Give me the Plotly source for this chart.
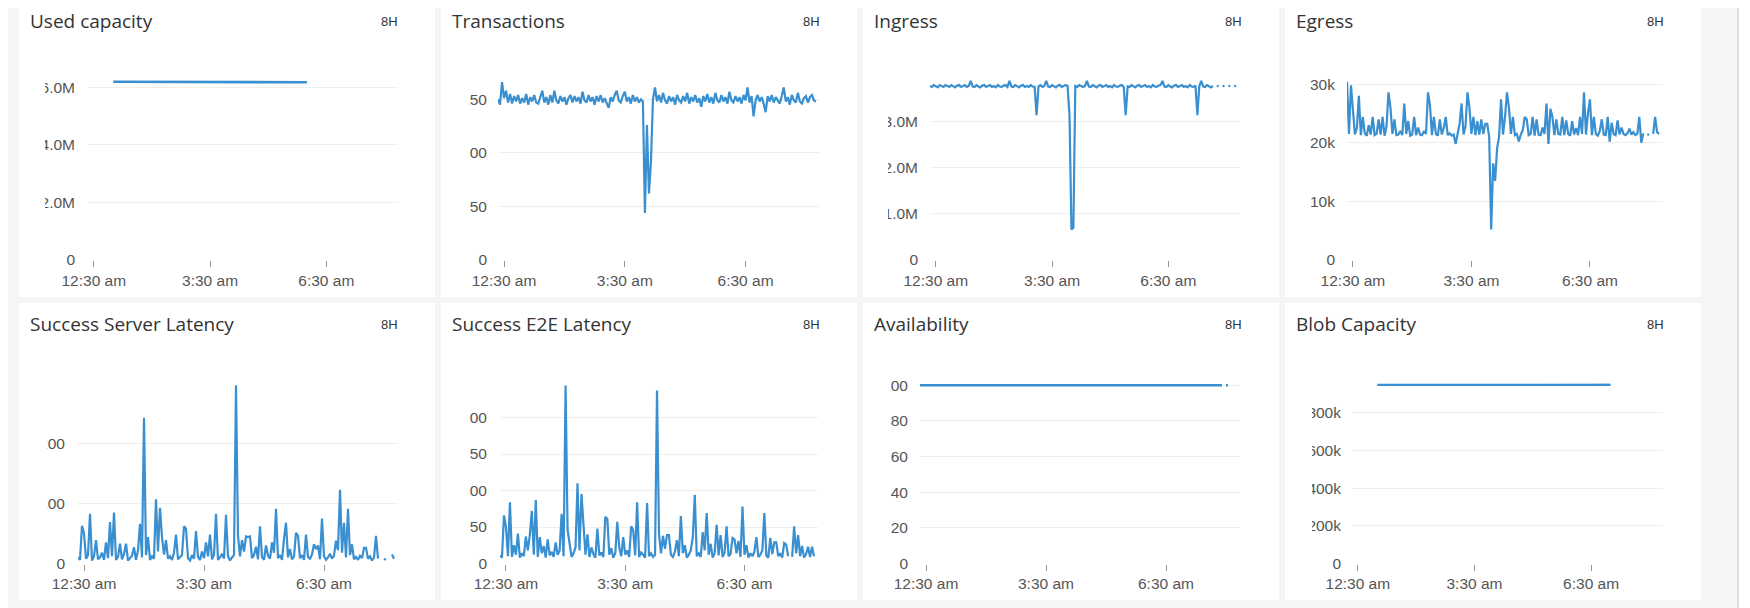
import pandas as pd
import plotly.graph_objects as go

W, H = 1750, 608
OFF = 8  # the page puts the figure 8px in from the top-left corner

# time axes
times = pd.date_range("2024-01-01 00:21", periods=160, freq="3min")   # 3 min samples
hours_used = pd.date_range("2024-01-01 01:00", periods=6, freq="h")
hours_blob = pd.date_range("2024-01-01 01:00", periods=7, freq="h")
avail_times = pd.to_datetime(["2024-01-01 00:21", "2024-01-01 07:54", "2024-01-01 07:57",
                              "2024-01-01 08:00", "2024-01-01 08:03"])

x_tickvals = pd.to_datetime(["2024-01-01 00:30", "2024-01-01 03:30", "2024-01-01 06:30"])
x_ticktext = ["12:30 am", "3:30 am", "6:30 am"]
x_range = ["2024-01-01 00:21", "2024-01-01 08:21"]

# ---- data ----
used_capacity_m = [6.19, 6.19, 6.19, 6.19, 6.17, 6.17]

transactions = [
    150, 145, 166, 151, 158, 147, 155, 146, 153, 148,
    154, 146, 151, 147, 155, 145, 152, 148, 154, 147,
    146, 153, 158, 147, 152, 145, 154, 147, 158, 149,
    146, 153, 148, 152, 145, 151, 154, 147, 153, 148,
    152, 146, 157, 149, 147, 154, 148, 152, 145, 153,
    148, 154, 147, 151, 146, 142, 152, 148, 154, 158,
    149, 147, 153, 157, 148, 152, 146, 154, 148, 152,
    147, 150, 148, 44, 126, 62, 92, 150, 161, 148,
    154, 147, 156, 149, 146, 153, 148, 152, 145, 154,
    149, 147, 153, 148, 156, 146, 152, 148, 154, 147,
    151, 143, 153, 148, 155, 147, 152, 146, 156, 149,
    147, 154, 148, 152, 146, 157, 149, 147, 153, 148,
    152, 146, 154, 149, 161, 147, 153, 134, 149, 154,
    148, 152, 146, 138, 153, 148, 154, 147, 152, 149,
    146, 153, 161, 148, 152, 145, 154, 149, 147, 156,
    148, 146, 151, 153, 147, 152, 154, 149, 148, None,
]

ingress_m = [
    3.77, 3.75, 3.79, 3.76, 3.74, 3.79, 3.76, 3.75, 3.79, 3.77,
    3.75, 3.79, 3.76, 3.74, 3.78, 3.79, 3.75, 3.77, 3.79, 3.75,
    3.77, 3.88, 3.76, 3.75, 3.79, 3.76, 3.74, 3.78, 3.79, 3.75,
    3.77, 3.79, 3.75, 3.77, 3.74, 3.79, 3.76, 3.75, 3.78, 3.79,
    3.75, 3.88, 3.76, 3.75, 3.79, 3.76, 3.74, 3.78, 3.79, 3.75,
    3.77, 3.75, 3.79, 3.76, 3.75, 3.14, 3.76, 3.79, 3.75, 3.77,
    3.88, 3.76, 3.75, 3.79, 3.76, 3.74, 3.78, 3.79, 3.75, 3.77,
    3.79, 3.77, 3.14, 0.66, 0.70, 3.77, 3.75, 3.79, 3.76, 3.75,
    3.77, 3.88, 3.76, 3.75, 3.79, 3.76, 3.74, 3.78, 3.79, 3.75,
    3.77, 3.79, 3.75, 3.77, 3.74, 3.79, 3.76, 3.75, 3.78, 3.79,
    3.75, 3.14, 3.76, 3.75, 3.79, 3.76, 3.74, 3.78, 3.79, 3.75,
    3.77, 3.79, 3.75, 3.77, 3.74, 3.79, 3.76, 3.75, 3.78, 3.79,
    3.88, 3.76, 3.75, 3.79, 3.76, 3.74, 3.78, 3.79, 3.75, 3.77,
    3.79, 3.75, 3.77, 3.74, 3.79, 3.76, 3.75, 3.78, 3.14, 3.77,
    3.88, 3.76, 3.75, 3.79, 3.76, 3.74, 3.77, None, 3.77, 3.77,
    None, 3.77, 3.77, None, 3.77, 3.77, None, 3.77, 3.77, None,
]

egress_k = [
    30.4, 21.5, 29.8, 24.7, 21.4, 22.5, 28.0, 21.3, 24.4, 21.6,
    21.2, 23.0, 21.4, 24.4, 21.3, 21.5, 24.0, 21.4, 24.4, 21.2,
    22.8, 28.6, 26.0, 21.5, 24.0, 21.3, 21.4, 22.0, 21.3, 26.7,
    21.5, 23.7, 21.2, 21.4, 24.4, 21.3, 22.6, 21.4, 21.3, 22.0,
    21.5, 28.6, 26.4, 21.3, 24.4, 21.5, 21.2, 24.0, 21.4, 22.5,
    24.4, 21.3, 21.6, 21.2, 21.4, 19.8, 21.5, 23.2, 26.7, 21.4,
    22.8, 28.6, 26.0, 21.5, 24.4, 21.3, 23.7, 21.4, 24.0, 21.5,
    23.2, 23.2, 21.0, 5.2, 16.5, 13.5, 19.1, 21.0, 27.4, 21.4,
    24.4, 28.6, 26.0, 21.5, 24.4, 21.3, 21.5, 20.2, 21.4, 22.2,
    24.4, 24.0, 21.3, 21.5, 24.4, 21.2, 24.0, 21.4, 21.3, 22.6,
    21.5, 26.7, 19.8, 25.8, 24.4, 21.3, 24.0, 21.5, 21.4, 24.4,
    21.3, 23.8, 21.5, 21.2, 23.7, 21.4, 22.5, 21.3, 24.4, 21.5,
    28.6, 21.4, 25.0, 27.4, 21.3, 24.4, 21.5, 21.2, 22.0, 24.0,
    21.4, 21.3, 24.4, 20.2, 23.4, 21.5, 21.3, 23.8, 21.4, 22.6,
    21.5, 21.3, 21.6, 22.4, 21.4, 21.8, 21.3, 21.5, 24.4, 20.0,
    21.6, None, 21.4, 21.4, None, 21.5, 24.4, 21.8, 21.5, None,
]

server_latency = [
    10, 6, 63, 50, 8, 14, 83, 5, 12, 39,
    7, 10, 18, 6, 35, 9, 69, 12, 85, 6,
    11, 33, 7, 16, 33, 5, 9, 13, 27, 6,
    22, 66, 10, 243, 14, 44, 6, 12, 8, 107,
    20, 93, 44, 15, 39, 8, 12, 6, 18, 48,
    7, 10, 14, 62, 58, 9, 5, 14, 8, 54,
    11, 6, 20, 9, 35, 12, 48, 7, 14, 83,
    6, 10, 16, 8, 81, 12, 5, 10, 14, 297,
    46, 12, 39, 20, 45, 44, 45, 9, 14, 28,
    7, 62, 11, 6, 30, 13, 8, 35, 18, 91,
    9, 14, 6, 41, 68, 10, 24, 7, 12, 51,
    46, 9, 14, 6, 48, 11, 8, 15, 32, 24,
    30, 7, 75, 12, 6, 10, 16, 8, 13, 38,
    22, 123, 18, 68, 10, 91, 14, 32, 7, 11,
    6, 13, 9, 26, 26, 8, 12, 5, 10, 46,
    8, None, None, 8, 6, None, None, 15, 8, None,
]

e2e_latency = [
    11, 8, 66, 50, 10, 84, 9, 25, 12, 41,
    8, 14, 10, 37, 18, 39, 72, 12, 87, 9,
    36, 14, 24, 8, 33, 11, 16, 9, 29, 12,
    18, 68, 10, 244, 46, 30, 9, 14, 22, 110,
    18, 95, 46, 12, 40, 9, 22, 13, 8, 48,
    11, 15, 9, 64, 61, 12, 21, 8, 14, 57,
    22, 10, 36, 12, 18, 9, 51, 46, 11, 84,
    9, 15, 12, 8, 83, 10, 14, 9, 12, 237,
    41, 14, 38, 20, 39, 39, 12, 9, 16, 32,
    10, 65, 14, 25, 8, 12, 18, 36, 94, 10,
    14, 9, 43, 18, 69, 12, 27, 8, 14, 53,
    11, 39, 9, 15, 51, 10, 13, 35, 33, 14,
    31, 9, 78, 12, 25, 8, 14, 10, 16, 36,
    9, 12, 18, 69, 11, 8, 35, 13, 29, 29,
    10, 14, 8, 28, 26, 10, None, 9, 51, 14,
    39, 10, 24, 8, 13, 23, 9, 23, 10, None,
]

availability = [100, 100, None, 100, 100]

blob_capacity_k = [948, 948, 948, 948, 948, 948, 949]

# ---- panels ----
# title, x, y, y tick values, y tick labels, y range, row, col,
# plot left/right (screen px), label gap, where the card cuts the labels off
panels = [
    ("Used capacity", hours_used, used_capacity_m, [0, 2, 4, 6], ["0", "2.0M", "4.0M", "6.0M"], [0, 6.25], 0, 0, 88, 398, 12, 27),
    ("Transactions", times, transactions, [0, 50, 100, 150], ["0", "50", "100", "150"], [0, 168], 0, 1, 498, 820, 10, 29.5),
    ("Ingress", times, ingress_m, [0, 1, 2, 3], ["0", "1.0M", "2.0M", "3.0M"], [0, 3.9], 0, 2, 930, 1240, 11, 26),
    ("Egress", times, egress_k, [0, 10, 20, 30], ["0", "10k", "20k", "30k"], [0, 30.7], 0, 3, 1347, 1663, 11, 25),
    ("Success Server Latency", times, server_latency, [0, 100, 200], ["0", "100", "200"], [0, 300], 1, 0, 78, 398, 12, 29),
    ("Success E2E Latency", times, e2e_latency, [0, 50, 100, 150, 200], ["0", "50", "100", "150", "200"], [0, 246.6], 1, 1, 500, 818, 12, 30),
    ("Availability", avail_times, availability, [0, 20, 40, 60, 80, 100], ["0", "20", "40", "60", "80", "100"], [0, 101], 1, 2, 920, 1240, 11, 28),
    ("Blob Capacity", hours_blob, blob_capacity_k, [0, 200, 400, 600, 800], ["0", "200k", "400k", "600k", "800k"], [0, 955], 1, 3, 1352, 1663, 10, 28),
]

card_left = [18, 440, 862, 1284]
card_w = 418
card_rows = [(-10, 298), (302, 601)]
plot_rows = [(80, 260), (383.5, 563.5)]
title_y = [21, 324]


def fx(px):
    return (px - OFF) / W


def fy(py):
    return 1 - (py - OFF) / H


LINE = "#3a8fd0"
tick_font = dict(family="Liberation Sans, Arial, sans-serif", size=15.5, color="#555555")

fig = go.Figure()
shapes = []
annotations = []

# scrollbar-ish strip on the right edge of the page
shapes.append(dict(type="rect", xref="paper", yref="paper", x0=fx(1737), x1=fx(1739), y0=0, y1=1,
                   fillcolor="#dddddd", line=dict(width=0), layer="below"))
shapes.append(dict(type="rect", xref="paper", yref="paper", x0=fx(1739), x1=1, y0=0, y1=1,
                   fillcolor="#ffffff", line=dict(width=0), layer="below"))

for k, (title, xs, ys, tv, tt, yr, row, col, px0, px1, gap, cut) in enumerate(panels):
    n = k + 1
    xa = "x" if n == 1 else "x%d" % n
    ya = "y" if n == 1 else "y%d" % n
    L = card_left[col]
    cy0, cy1 = card_rows[row]
    py0, py1 = plot_rows[row]
    flat = title in ("Used capacity", "Blob Capacity", "Availability")

    # card background
    shapes.append(dict(type="rect", xref="paper", yref="paper",
                       x0=fx(L), x1=fx(L + card_w), y0=fy(cy1), y1=fy(cy0),
                       fillcolor="#ffffff", line=dict(color="#f0f0f0", width=1), layer="below"))
    # y tick labels run past the card's inner edge and are cut off there
    shapes.append(dict(type="rect", xref="paper", yref="paper",
                       x0=fx(L + 1), x1=fx(L + cut), y0=fy(py1 + 12), y1=fy(py0 - 14),
                       fillcolor="#ffffff", line=dict(width=0), layer="above"))

    fig.add_trace(go.Scatter(x=xs, y=ys, mode="lines", xaxis=xa, yaxis=ya,
                             line=dict(color=LINE, width=2.6 if flat else 2.2), hoverinfo="skip",
                             showlegend=False))

    fig.layout[("xaxis" if n == 1 else "xaxis%d" % n)] = dict(
        domain=[fx(px0), fx(px1)], anchor=ya, type="date", range=x_range, automargin=False,
        tickvals=x_tickvals, ticktext=x_ticktext, ticks="outside", ticklen=6,
        tickcolor="#999999", tickwidth=1, showgrid=False, showline=False, zeroline=False,
        tickfont=tick_font, ticklabelstandoff=0, fixedrange=True)
    fig.layout[("yaxis" if n == 1 else "yaxis%d" % n)] = dict(
        domain=[fy(py1), fy(py0)], anchor=xa, range=yr, automargin=False,
        tickvals=tv, ticktext=tt, ticks="", showgrid=True, gridcolor="#eeeeee", gridwidth=1,
        zeroline=False, showline=False, tickfont=tick_font, ticklabelstandoff=gap, fixedrange=True)

    annotations.append(dict(text=title, xref="paper", yref="paper", x=fx(L + 10), y=fy(title_y[row]),
                            xanchor="left", yanchor="middle", showarrow=False,
                            font=dict(family="Open Sans, sans-serif", size=19, color="#333333")))
    annotations.append(dict(text="8H", xref="paper", yref="paper", x=fx(L + 382), y=fy(title_y[row]),
                            xanchor="right", yanchor="middle", showarrow=False,
                            font=dict(family="Liberation Sans, Arial, sans-serif", size=13, color="#333333")))

fig.update_layout(width=W, height=H, margin=dict(l=0, r=0, t=0, b=0, autoexpand=False),
                  paper_bgcolor="#f6f6f6", plot_bgcolor="rgba(0,0,0,0)",
                  shapes=shapes, annotations=annotations, showlegend=False)

fig.write_html("out.html")
